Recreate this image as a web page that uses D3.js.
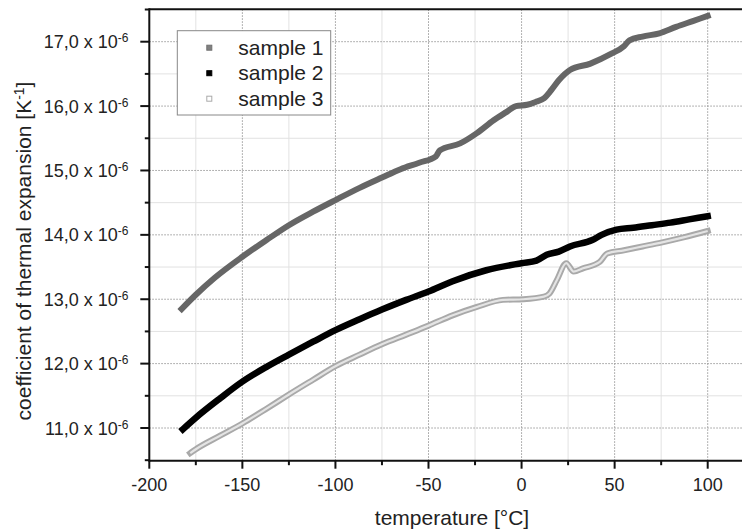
<!DOCTYPE html>
<html>
<head>
<meta charset="utf-8">
<script src="https://cdn.jsdelivr.net/npm/d3@7"></script>
<style>
  html, body { margin: 0; padding: 0; background: #fff; }
  svg { display: block; font-family: "Liberation Sans", Arial, sans-serif; }
</style>
</head>
<body>
<svg id="chart" width="742" height="531"></svg>
<script>
// ---- data (values in 10^-6 K^-1) ----
const seriesNames = ["sample 1", "sample 2", "sample 3"];

const sample1T = [-182.6, -175, -165, -150, -137, -125, -112, -100, -87, -75, -65, -55, -46, -44, -33, -24, -15, -8, -3, 3, 8, 12, 16, 20, 26, 37, 48, 55, 58, 65, 74, 83, 92, 100];
const sample1V = [12.85, 13.07, 13.33, 13.66, 13.92, 14.15, 14.36, 14.54, 14.73, 14.89, 15.02, 15.12, 15.22, 15.31, 15.42, 15.58, 15.78, 15.91, 16.0, 16.02, 16.07, 16.12, 16.25, 16.40, 16.56, 16.66, 16.81, 16.93, 17.02, 17.08, 17.13, 17.23, 17.32, 17.40];

const sample2T = [-182, -175, -162, -150, -137, -125, -112, -100, -87, -75, -62, -50, -37, -19, 0, 8, 13.5, 20, 26, 38, 43, 51, 60, 70, 80, 90, 100];
const sample2V = [10.98, 11.16, 11.46, 11.72, 11.95, 12.14, 12.34, 12.52, 12.69, 12.84, 12.99, 13.12, 13.28, 13.45, 13.56, 13.60, 13.69, 13.74, 13.82, 13.92, 14.00, 14.08, 14.11, 14.15, 14.19, 14.24, 14.29];

const sample3T = [-178, -175, -162, -150, -137, -125, -112, -100, -87, -75, -62, -50, -37, -24, -10, 1, 12, 15, 19, 24, 28, 33, 42, 46, 55, 65, 75, 87, 100];
const sample3V = [10.61, 10.67, 10.88, 11.07, 11.30, 11.52, 11.75, 11.96, 12.14, 12.30, 12.45, 12.59, 12.75, 12.88, 12.99, 13.00, 13.04, 13.09, 13.30, 13.56, 13.43, 13.48, 13.58, 13.71, 13.76, 13.82, 13.88, 13.96, 14.06];

const xMajorTicks = [-200, -150, -100, -50, 0, 50, 100];
const xMinorTicks = [-175, -125, -75, -25, 25, 75];
const yMajorTicks = [11, 12, 13, 14, 15, 16, 17];
const yMajorLabels = ["11,0", "12,0", "13,0", "14,0", "15,0", "16,0", "17,0"];
const yMinorTicks = [10.5, 11.5, 12.5, 13.5, 14.5, 15.5, 16.5, 17.5];
const yExponent = "-6";

const xTitle = "temperature [°C]";
const yTitle = "coefficient of thermal expansion [K";
const yTitleSup = "-1";

// ---- layout ----
const svg = d3.select("#chart");
const pLeft = 149.3, pRight = 742, pTop = 9.3, pBottom = 460.7;

const x = d3.scaleLinear().domain([-200, 100]).range([149.3, 707.7]);
const y = d3.scaleLinear().domain([11, 17]).range([428, 41.7]);

// ---- grid ----
const grid = svg.append("g");
grid.selectAll(".vmin").data(xMinorTicks).join("line")
  .attr("x1", d => x(d)).attr("x2", d => x(d)).attr("y1", pTop).attr("y2", pBottom)
  .attr("stroke", "#e2e2e2").attr("stroke-width", 1);
grid.selectAll(".hmin").data(yMinorTicks.filter(d => d > 10.6 && d < 17.4)).join("line")
  .attr("x1", pLeft).attr("x2", pRight).attr("y1", d => y(d)).attr("y2", d => y(d))
  .attr("stroke", "#e2e2e2").attr("stroke-width", 1);
grid.selectAll(".vmaj").data(xMajorTicks.filter(d => d > -200)).join("line")
  .attr("x1", d => x(d)).attr("x2", d => x(d)).attr("y1", pTop).attr("y2", pBottom)
  .attr("stroke", "#9a9a9a").attr("stroke-width", 1).attr("stroke-dasharray", "1.5,1.5");
grid.selectAll(".hmaj").data(yMajorTicks).join("line")
  .attr("x1", pLeft).attr("x2", pRight).attr("y1", d => y(d)).attr("y2", d => y(d))
  .attr("stroke", "#9a9a9a").attr("stroke-width", 1).attr("stroke-dasharray", "1.5,1.5");

// ---- series ----
const line = d3.line().curve(d3.curveMonotoneX).x(d => x(d[0])).y(d => y(d[1]));
const s1 = sample1T.map((t, i) => [t, sample1V[i]]);
const s2 = sample2T.map((t, i) => [t, sample2V[i]]);
const s3 = sample3T.map((t, i) => [t, sample3V[i]]);

const plot = svg.append("g");
plot.append("path").datum(s3).attr("d", line).attr("fill", "none")
  .attr("stroke", "#a9a9a9").attr("stroke-width", 6).attr("stroke-linejoin", "round").attr("stroke-linecap", "square");
plot.append("path").datum(s3).attr("d", line).attr("fill", "none")
  .attr("stroke", "#e4e4e4").attr("stroke-width", 2.2).attr("stroke-linejoin", "round");
plot.append("path").datum(s2).attr("d", line).attr("fill", "none")
  .attr("stroke", "#000").attr("stroke-width", 6.5).attr("stroke-linejoin", "round").attr("stroke-linecap", "square");
plot.append("path").datum(s1).attr("d", line).attr("fill", "none")
  .attr("stroke", "#666").attr("stroke-width", 6).attr("stroke-linejoin", "round").attr("stroke-linecap", "square");

// ---- frame / axes ----
svg.append("line").attr("x1", pLeft).attr("x2", pRight).attr("y1", pTop).attr("y2", pTop)
  .attr("stroke", "#111").attr("stroke-width", 2);
svg.append("line").attr("x1", pLeft).attr("x2", pRight).attr("y1", pBottom).attr("y2", pBottom)
  .attr("stroke", "#111").attr("stroke-width", 2);
svg.append("line").attr("x1", pLeft).attr("x2", pLeft).attr("y1", pTop - 1).attr("y2", pBottom + 1)
  .attr("stroke", "#111").attr("stroke-width", 2);

// x ticks
const xAxisG = svg.append("g");
xAxisG.selectAll(".xt").data(xMajorTicks).join("line")
  .attr("x1", d => x(d)).attr("x2", d => x(d)).attr("y1", pBottom).attr("y2", pBottom + 8)
  .attr("stroke", "#111").attr("stroke-width", 2);
xAxisG.selectAll(".xm").data(xMinorTicks).join("line")
  .attr("x1", d => x(d)).attr("x2", d => x(d)).attr("y1", pBottom).attr("y2", pBottom + 4.5)
  .attr("stroke", "#111").attr("stroke-width", 2);
xAxisG.selectAll(".xl").data(xMajorTicks).join("text")
  .attr("x", d => x(d)).attr("y", 490.5).attr("text-anchor", "middle")
  .attr("font-size", 18).attr("fill", "#222").text(d => String(d));

// y ticks
const yAxisG = svg.append("g");
yAxisG.selectAll(".yt").data(yMajorTicks).join("line")
  .attr("x1", pLeft - 9).attr("x2", pLeft).attr("y1", d => y(d)).attr("y2", d => y(d))
  .attr("stroke", "#111").attr("stroke-width", 2);
yAxisG.selectAll(".ym").data(yMinorTicks).join("line")
  .attr("x1", pLeft - 4.5).attr("x2", pLeft).attr("y1", d => y(d)).attr("y2", d => y(d))
  .attr("stroke", "#111").attr("stroke-width", 2);
const yl = yAxisG.selectAll(".yl").data(yMajorTicks).join("text")
  .attr("x", 128.5).attr("y", d => y(d) + 6.5).attr("text-anchor", "end")
  .attr("font-size", 18).attr("fill", "#222");
yl.append("tspan").text((d, i) => yMajorLabels[i] + " x 10");
yl.append("tspan").attr("font-size", 12).attr("dy", -6).text(yExponent);

// axis titles
svg.append("text").attr("x", 452).attr("y", 525).attr("text-anchor", "middle")
  .attr("font-size", 21).attr("fill", "#222").text(xTitle);
const yt = svg.append("text").attr("transform", "translate(31,251) rotate(-90)")
  .attr("text-anchor", "middle").attr("font-size", 21).attr("fill", "#222");
yt.append("tspan").text(yTitle);
yt.append("tspan").attr("font-size", 14).attr("dy", -7).text(yTitleSup);
yt.append("tspan").attr("dy", 7).text("]");

// ---- legend ----
const lg = svg.append("g");
lg.append("rect").attr("x", 177.3).attr("y", 30.7).attr("width", 153.4).attr("height", 84.3)
  .attr("fill", "#fff").attr("stroke", "#888").attr("stroke-width", 1);
const legendRows = [
  { name: seriesNames[0], fill: "#808080", stroke: "#707070" },
  { name: seriesNames[1], fill: "#000", stroke: "#000" },
  { name: seriesNames[2], fill: "#fff", stroke: "#aaa" }
];
legendRows.forEach((r, i) => {
  const cy = 47.7 + i * 25.5;
  lg.append("rect").attr("x", 209.3 - 2.5).attr("y", cy - 2.5).attr("width", 5).attr("height", 5)
    .attr("fill", r.fill).attr("stroke", r.stroke).attr("stroke-width", 1);
  lg.append("text").attr("x", 238.3).attr("y", cy + 6.8).attr("font-size", 21)
    .attr("fill", "#222").text(r.name);
});
</script>
</body>
</html>
